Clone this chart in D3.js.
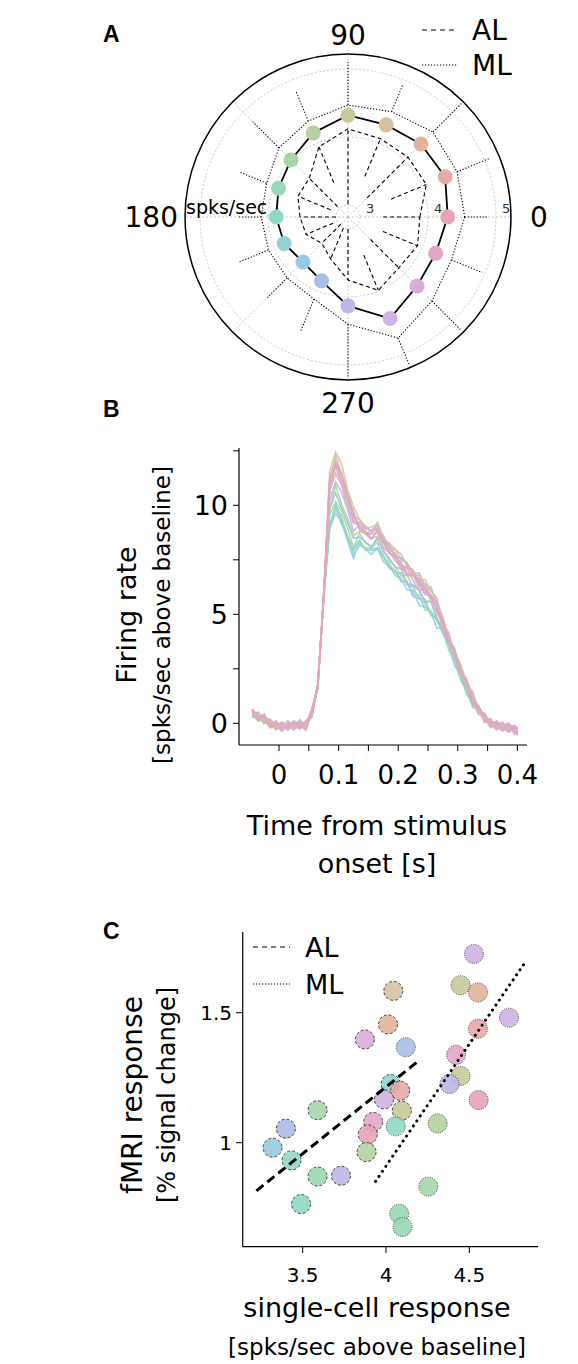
<!DOCTYPE html>
<html><head><meta charset="utf-8">
<script src="https://cdn.jsdelivr.net/npm/d3@7"></script>
<style>body{margin:0;background:#fff}svg{font-family:"DejaVu Sans",sans-serif}</style>
</head><body>
<svg id="c" width="578" height="1364"></svg>
<script>
// ---------- DATA ----------
const directions = [0,22.5,45,67.5,90,112.5,135,157.5,180,202.5,225,247.5,270,292.5,315,337.5];
const dirColors = ["#e8a3b5","#e4aaa6","#e2b49c","#d6c29c","#c8c99a","#b6d19f","#a6d5a8","#98d8b6",
                   "#90d9c6","#8fd3d3","#98c9e0","#a9bde3","#bcb7e6","#d1b3e3","#dcacd9","#e2a6c9"];
const meanResp = [4.29,4.37,4.34,4.29,4.32,4.16,4.01,3.93,3.88,3.84,3.76,3.84,4.13,4.44,4.26,4.22];
const alPoly   = [3.88,4.07,4.07,4.07,4.12,3.94,3.63,3.62,3.53,3.49,3.37,3.49,3.75,3.99,3.88,3.93];
const alSpike  = [3.34,3.51,3.22,3.47,3.01,3.37,3.04,3.10,3.00,3.06,2.97,3.00,3.00,3.43,3.29,3.38];
const mlPoly   = [4.54,4.56,4.59,4.50,4.47,4.35,4.26,4.12,4.10,4.09,4.09,4.13,4.40,4.75,4.57,4.47];
const mlSpike  = [4.88,5.09,5.18,4.93,5.10,4.82,4.81,4.56,4.44,4.57,4.50,4.63,5.18,5.20,5.16,4.96];
const radialTicks = [3,4,5];
const angleLabels = [0,90,180,270];

const psthTime = [-0.045,-0.035,-0.025,-0.015,-0.005,0.005,0.015,0.025,0.035,0.045,0.055,0.065,0.075,0.085,0.095,
  0.105,0.115,0.125,0.135,0.145,0.155,0.165,0.175,0.185,0.195,0.205,0.215,0.225,0.235,0.245,0.255,0.265,0.275,
  0.285,0.295,0.305,0.315,0.325,0.335,0.345,0.355,0.365,0.375,0.385,0.395,0.4];
const psthBase = [0.45,0.3,0.2,0.0,-0.1,-0.15,-0.1,-0.1,-0.05,-0.1,0.45,1.7,5.8,11.0,12.0,
  11.3,10.4,9.5,8.9,8.6,8.5,8.7,8.2,7.8,7.5,7.2,6.9,6.6,6.3,6.0,5.7,5.2,4.5,
  3.8,3.1,2.4,1.7,1.1,0.6,0.25,0.0,-0.1,-0.15,-0.2,-0.3,-0.35];
const psthPeak = [12.0,11.8,11.5,12.2,12.5,10.8,10.3,10.0,9.8,9.7,9.9,10.6,11.2,11.9,11.7,12.1];
const psthPlateau = [0.1,0.2,0.3,0.4,0.4,0.0,-0.3,-0.5,-0.6,-0.7,-0.6,-0.3,0.2,0.3,0.1,0.0];
const psthWiggle = [0.15,-0.1,0.2,-0.2,0.05,0.1,-0.15,0.2,-0.05,-0.2,0.1,0.15,-0.1,0.05,-0.15,0.2,-0.05];
const psthXTicks = [0,0.1,0.2,0.3,0.4];
const psthYTicks = [0,5,10];

const scX = [4.528,4.448,4.552,4.044,4.012,4.738,4.552,3.873,4.119,4.421,4.448,4.381,4.028,4.085,3.988,4.556,
  3.589,4.095,3.923,4.058,4.310,3.399,3.891,3.319,3.883,3.433,3.589,3.730,4.254,3.490,4.079,4.099];
const scY = [1.726,1.606,1.578,1.584,1.455,1.481,1.438,1.397,1.367,1.338,1.257,1.226,1.226,1.200,1.167,1.164,
  1.125,1.123,1.080,1.063,1.074,1.054,1.032,0.981,0.964,0.932,0.870,0.873,0.831,0.764,0.727,0.676];
const scArea = ["ML","ML","ML","AL","AL","ML","ML","AL","ML","ML","ML","ML","AL","AL","AL","ML",
  "AL","AL","AL","ML","ML","AL","AL","AL","AL","AL","AL","AL","ML","AL","ML","ML"];
const scDir = [13,4,2,3,2,13,1,14,11,15,4,12,9,1,13,0,6,4,15,8,5,11,0,10,5,8,7,12,6,8,7,7];
const alFitX = [3.222,4.2], alFitY = [0.815,1.317];
const mlFitX = [3.937,4.835], mlFitY = [0.851,1.694];
const scXTicks = [3.5,4,4.5], scYTicks = [1,1.5];

// ---------- DRAW ----------
const svg = d3.select("#c");
const tf = v => (v===0?"0":d3.format("~g")(v));

[["A",103,42],["B",103,417],["C",103,939]].forEach(([t,x,y])=>
  svg.append("text").attr("x",x).attr("y",y).attr("font-size",23).attr("font-weight","bold").attr("font-family","Liberation Sans, Arial").text(t));

// ----- A: polar -----
const cx=348, cy=217;
const r = d3.scaleLinear().domain([3,4]).range([12,80]);
const rMax = r(5.22);
const gA = svg.append("g").attr("transform",`translate(${cx},${cy})`);
const rad = d => d*Math.PI/180;
radialTicks.forEach(v=>gA.append("circle").attr("r",r(v)).attr("fill","none").attr("stroke","#bbb").attr("stroke-width",0.8).attr("stroke-dasharray","2,2"));
d3.range(0,360,45).forEach(a=>gA.append("line").attr("x1",0).attr("y1",0)
  .attr("x2",rMax*Math.cos(rad(a))).attr("y2",-rMax*Math.sin(rad(a)))
  .attr("stroke","#bbb").attr("stroke-width",0.8).attr("stroke-dasharray","2,2"));
gA.append("circle").attr("r",rMax).attr("fill","none").attr("stroke","#000").attr("stroke-width",1.5);
const rl = d3.lineRadial().angle(d=>Math.PI/2-rad(d.a)).radius(d=>r(d.v)).curve(d3.curveLinearClosed);
function poly(vals,dash,w){
  gA.append("path").attr("d",rl(vals.map((v,i)=>({a:directions[i],v}))))
    .attr("fill","none").attr("stroke","#000").attr("stroke-width",w).attr("stroke-dasharray",dash);
}
function spikes(a,b,dash){
  directions.forEach((d,i)=>gA.append("line")
    .attr("x1",r(a[i])*Math.cos(rad(d))).attr("y1",-r(a[i])*Math.sin(rad(d)))
    .attr("x2",r(b[i])*Math.cos(rad(d))).attr("y2",-r(b[i])*Math.sin(rad(d)))
    .attr("stroke","#000").attr("stroke-width",1.1).attr("stroke-dasharray",dash));
}
poly(alPoly,"4,3",1.1); spikes(alSpike,alPoly,"4,3");
poly(mlPoly,"1.2,1.8",1.1); spikes(mlPoly,mlSpike,"1.2,1.8");
poly(meanResp,null,1.8);
directions.forEach((d,i)=>gA.append("circle").attr("cx",r(meanResp[i])*Math.cos(rad(d))).attr("cy",-r(meanResp[i])*Math.sin(rad(d)))
  .attr("r",7.5).attr("fill",dirColors[i]));
radialTicks.forEach(v=>gA.append("text").attr("x",r(v)+6).attr("y",-4).attr("font-size",13).attr("fill","#333").text(v));
gA.append("text").attr("x",-162).attr("y",-3).attr("font-size",19).text("spks/sec");
const lblPos = {0:[182,10,"start"],90:[0,-172,"middle"],180:[-170,10,"end"],270:[0,196,"middle"]};
angleLabels.forEach(a=>gA.append("text").attr("x",lblPos[a][0]).attr("y",lblPos[a][1]).attr("text-anchor",lblPos[a][2]).attr("font-size",28).text(a));
[["AL","5,4",30],["ML","1.2,1.8",65]].forEach(([t,dash,y])=>{
  svg.append("line").attr("x1",422).attr("x2",458).attr("y1",y).attr("y2",y).attr("stroke","#000").attr("stroke-width",1.1).attr("stroke-dasharray",dash);
  svg.append("text").attr("x",472).attr("y",y+10).attr("font-size",28).text(t);
});

// ----- B: PSTH -----
const xB = d3.scaleLinear().domain([0,0.1]).range([279,338.6]);
const yB = d3.scaleLinear().domain([0,5]).range([723.3,614.3]);
const gB = svg.append("g");
const lineB = d3.line().x((d,j)=>xB(psthTime[j])).y(d=>yB(d));
const order = [8,9,10,7,6,11,5,2,1,12,3,14,4,13,15,0];
order.forEach(i=>{
  const vals = psthBase.map((b,j)=>{
    const t = psthTime[j];
    let v = b;
    if (t>0.075 && t<0.13) v = b*psthPeak[i]/12.0;
    else if (t>=0.13 && t<0.27) v = b + psthPlateau[i];
    else if (t>=0.27 && t<0.33) v = b + psthPlateau[i]*0.4;
    return v + psthWiggle[(i+j)%psthWiggle.length]*(t<0.06||t>0.2?1:0.6);
  });
  gB.append("path").attr("d",lineB(vals)).attr("fill","none").attr("stroke",dirColors[i]).attr("stroke-width",1.6).attr("stroke-opacity",0.9);
});
gB.append("line").attr("x1",239).attr("x2",239).attr("y1",448).attr("y2",745).attr("stroke","#000").attr("stroke-width",1.2);
gB.append("line").attr("x1",239).attr("x2",527).attr("y1",745).attr("y2",745).attr("stroke","#000").attr("stroke-width",1.2);
[0,0.05,0.1,0.15,0.2,0.25,0.3,0.35,0.4].forEach(t=>
  gB.append("line").attr("x1",xB(t)).attr("x2",xB(t)).attr("y1",745).attr("y2",751).attr("stroke","#000"));
psthXTicks.forEach(t=>gB.append("text").attr("x",xB(t)).attr("y",784).attr("text-anchor","middle").attr("font-size",26).text(tf(t)));
[0,2.5,5,7.5,10,12.5].forEach(v=>gB.append("line").attr("x1",233).attr("x2",239).attr("y1",yB(v)).attr("y2",yB(v)).attr("stroke","#000"));
psthYTicks.forEach(v=>gB.append("text").attr("x",228).attr("y",yB(v)+10).attr("text-anchor","end").attr("font-size",27).text(v));
gB.append("text").attr("transform","translate(136,615) rotate(-90)").attr("text-anchor","middle").attr("font-size",27).text("Firing rate");
gB.append("text").attr("transform","translate(170,615) rotate(-90)").attr("text-anchor","middle").attr("font-size",23).text("[spks/sec above baseline]");
gB.append("text").attr("x",377).attr("y",835).attr("text-anchor","middle").attr("font-size",27).text("Time from stimulus");
gB.append("text").attr("x",377).attr("y",873).attr("text-anchor","middle").attr("font-size",27).text("onset [s]");

// ----- C: scatter -----
const xC = d3.scaleLinear().domain([3.5,4]).range([302.7,386]);
const yC = d3.scaleLinear().domain([1,1.5]).range([1142.7,1012.7]);
const gC = svg.append("g");
gC.append("line").attr("x1",242.7).attr("x2",242.7).attr("y1",932).attr("y2",1246.7).attr("stroke","#000").attr("stroke-width",1.2);
gC.append("line").attr("x1",242.7).attr("x2",538).attr("y1",1246.7).attr("y2",1246.7).attr("stroke","#000").attr("stroke-width",1.2);
scXTicks.forEach(v=>{
  gC.append("line").attr("x1",xC(v)).attr("x2",xC(v)).attr("y1",1246.7).attr("y2",1253).attr("stroke","#000");
  gC.append("text").attr("x",xC(v)).attr("y",1282).attr("text-anchor","middle").attr("font-size",20).text(tf(v));
});
scYTicks.forEach(v=>{
  gC.append("line").attr("x1",236).attr("x2",242.7).attr("y1",yC(v)).attr("y2",yC(v)).attr("stroke","#000");
  gC.append("text").attr("x",232).attr("y",yC(v)+7).attr("text-anchor","end").attr("font-size",20).text(tf(v));
});
scX.forEach((x,i)=>gC.append("circle").attr("cx",xC(x)).attr("cy",yC(scY[i])).attr("r",9.5)
  .attr("fill",dirColors[scDir[i]]).attr("fill-opacity",0.9).attr("stroke","#333").attr("stroke-width",0.9)
  .attr("stroke-dasharray",scArea[i]==="AL"?"3,2":"1,1.3"));
gC.append("line").attr("x1",xC(alFitX[0])).attr("y1",yC(alFitY[0])).attr("x2",xC(alFitX[1])).attr("y2",yC(alFitY[1]))
  .attr("stroke","#000").attr("stroke-width",3).attr("stroke-dasharray","9,5");
gC.append("line").attr("x1",xC(mlFitX[0])).attr("y1",yC(mlFitY[0])).attr("x2",xC(mlFitX[1])).attr("y2",yC(mlFitY[1]))
  .attr("stroke","#000").attr("stroke-width",3).attr("stroke-linecap","round").attr("stroke-dasharray","0.1,6");
[["AL","5,4",947],["ML","1.2,1.8",984]].forEach(([t,dash,y])=>{
  gC.append("line").attr("x1",253).attr("x2",290).attr("y1",y).attr("y2",y).attr("stroke","#000").attr("stroke-width",1.2).attr("stroke-dasharray",dash);
  gC.append("text").attr("x",305).attr("y",y+10).attr("font-size",27).text(t);
});
gC.append("text").attr("transform","translate(142,1095) rotate(-90)").attr("text-anchor","middle").attr("font-size",28).text("fMRI response");
gC.append("text").attr("transform","translate(175,1095) rotate(-90)").attr("text-anchor","middle").attr("font-size",24).text("[% signal change]");
gC.append("text").attr("x",377).attr("y",1317).attr("text-anchor","middle").attr("font-size",27).text("single-cell response");
gC.append("text").attr("x",377).attr("y",1355).attr("text-anchor","middle").attr("font-size",23).text("[spks/sec above baseline]");
</script>
</body></html>
